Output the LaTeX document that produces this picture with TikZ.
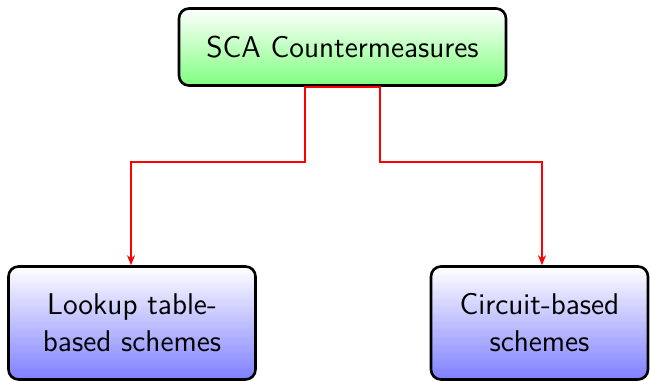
\documentclass[tikz,border=0pt]{standalone}
\usetikzlibrary{arrows.meta}
\begin{document}
\begin{tikzpicture}[x=0.5pt,y=-0.5pt,
  box/.style={draw=black, line width=1.3pt, rounded corners=5pt, font=\sffamily\fontsize{15}{18.5}\selectfont, align=center, inner sep=0pt},
  topbox/.style={box, top color=white, bottom color=green!50},
  leafbox/.style={box, top color=white, bottom color=blue!50},
  link/.style={red, line width=0.7pt, -{Stealth[length=5pt,width=4pt]}}]
\useasboundingbox (0,0) rectangle (650,381);
\node[topbox, minimum width=163.5pt, minimum height=38.5pt] (root) at (342.5,47) {SCA Countermeasures};
\node[leafbox, minimum width=123.5pt, minimum height=56.5pt] (left) at (132,323) {Lookup table-\\based schemes};
\node[leafbox, minimum width=108.5pt, minimum height=56.5pt] (right) at (539.5,323) {Circuit-based\\schemes};
\coordinate (lk) at (305,162);
\coordinate (rk) at (380,162);
\draw[link] (root.south) -| (lk) -| ([xshift=-0.5pt]left.north);
\draw[link] (root.south) -| (rk) -| ([xshift=1.25pt]right.north);
\end{tikzpicture}
\end{document}
